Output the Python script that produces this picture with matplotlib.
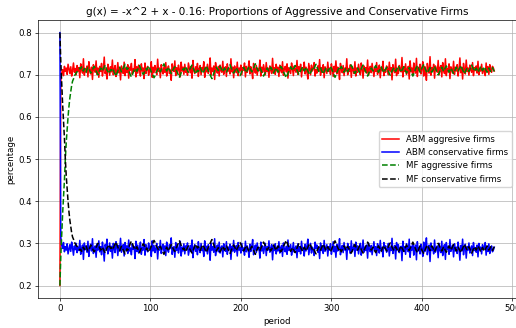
import numpy as np
import matplotlib
matplotlib.use('Agg')
import matplotlib.pyplot as plt

# share of aggressive firms in the agent based model, in thousandths (periods 0..480)
abm_aggr = [
	200, 685, 705, 712, 698, 720, 708, 716, 701, 725, 714, 703, 719, 697, 711, 728, 706, 715, 700, 722,
	709, 717, 693, 726, 713, 704, 738, 699, 715, 707, 721, 695, 731, 710, 702, 718, 689, 724, 712, 706,
	733, 701, 716, 694, 720, 708, 727, 697, 714, 742, 703, 711, 690, 725, 716, 699, 719, 707, 735, 700,
	713, 722, 696, 709, 729, 705, 717, 688, 721, 710, 703, 730, 698, 715, 706, 724, 692, 718, 711, 727,
	701, 714, 708, 736, 695, 719, 704, 723, 711, 697, 726, 709, 716, 691, 728, 703, 715, 720, 699, 712,
	707, 731, 694, 718, 705, 722, 713, 700, 737, 708, 716, 693, 724, 710, 702, 719, 706, 729, 697, 714,
	721, 703, 711, 687, 726, 715, 708, 733, 698, 717, 704, 723, 712, 695, 730, 709, 718, 701, 725, 706,
	713, 699, 728, 716, 705, 720, 692, 734, 710, 703, 719, 708, 727, 696, 714, 722, 700, 717, 711, 731,
	694, 718, 707, 725, 703, 712, 740, 699, 716, 708, 721, 689, 729, 713, 704, 720, 697, 723, 710, 706,
	732, 701, 715, 719, 696, 726, 709, 714, 702, 738, 707, 718, 693, 721, 712, 705, 730, 698, 716, 709,
	723, 700, 717, 711, 728, 695, 720, 706, 714, 733, 702, 719, 708, 691, 727, 713, 704, 722, 699, 715,
	710, 735, 697, 718, 706, 724, 712, 700, 729, 708, 716, 694, 721, 713, 703, 739, 706, 717, 701, 725,
	709, 718, 696, 723, 711, 705, 731, 699, 714, 720, 707, 726, 692, 717, 710, 703, 728, 715, 698, 721,
	712, 706, 734, 701, 719, 708, 725, 695, 716, 711, 730, 702, 718, 707, 690, 727, 714, 700, 723, 709,
	715, 729, 697, 712, 704, 721, 710, 736, 699, 717, 706, 724, 693, 719, 711, 703, 730, 708, 716, 701,
	726, 713, 696, 720, 707, 733, 702, 718, 711, 689, 727, 714, 705, 722, 698, 716, 709, 738, 700, 715,
	708, 724, 694, 719, 712, 703, 731, 697, 716, 706, 725, 710, 700, 728, 713, 692, 721, 709, 717, 704,
	735, 699, 714, 720, 705, 727, 711, 696, 718, 708, 729, 701, 715, 723, 693, 717, 710, 732, 698, 712,
	706, 721, 714, 700, 730, 709, 717, 688, 724, 711, 705, 737, 698, 716, 703, 722, 712, 707, 741, 695,
	719, 708, 726, 701, 713, 720, 690, 733, 707, 716, 699, 728, 711, 704, 739, 696, 718, 710, 725, 702,
	714, 731, 697, 720, 708, 687, 727, 712, 704, 743, 699, 717, 709, 725, 692, 721, 713, 706, 734, 700,
	716, 722, 695, 729, 710, 703, 738, 698, 715, 707, 726, 691, 719, 712, 704, 732, 701, 718, 709, 724,
	697, 713, 740, 705, 718, 690, 727, 711, 702, 735, 708, 716, 699, 723, 712, 706, 729, 698, 717, 710,
	721, 704, 732, 700, 715, 709, 725, 703, 714, 711, 698, 728, 707, 719, 701, 724, 713, 706, 720, 716, 709,
]

# share of aggressive firms in the mean field model, in thousandths (periods 0..480)
mf_aggr = [
	200, 270, 320, 370, 410, 450, 500, 540, 570, 600, 625, 645, 660, 675, 685, 690, 697, 701, 705, 707, 710,
	712, 716, 714, 719, 713, 709, 715, 711, 706, 713, 718, 715, 710, 704, 708, 712, 717, 720, 714, 709,
	705, 700, 706, 711, 716, 713, 709, 714, 719, 723, 717, 711, 708, 703, 707, 712, 710, 715, 712, 706,
	701, 697, 703, 709, 714, 718, 712, 707, 711, 716, 720, 725, 719, 713, 716, 710, 705, 699, 695, 700,
	706, 711, 715, 712, 708, 713, 718, 722, 716, 711, 706, 701, 704, 709, 714, 711, 716, 721, 717, 712,
	707, 703, 698, 693, 697, 703, 708, 712, 716, 711, 707, 712, 717, 722, 726, 720, 714, 709, 713, 718,
	714, 708, 703, 707, 712, 716, 719, 713, 709, 704, 699, 694, 699, 705, 710, 714, 711, 716, 720, 715,
	710, 706, 711, 715, 719, 723, 718, 712, 707, 702, 706, 711, 708, 713, 717, 712, 707, 703, 708, 713,
	717, 721, 715, 709, 704, 700, 695, 691, 697, 703, 709, 714, 718, 714, 710, 715, 720, 716, 711, 707,
	712, 716, 711, 706, 710, 715, 719, 724, 718, 713, 708, 704, 708, 713, 717, 712, 708, 703, 698, 702,
	708, 713, 718, 714, 709, 705, 710, 715, 720, 716, 711, 707, 712, 716, 721, 726, 720, 714, 709, 713,
	717, 712, 707, 702, 697, 701, 706, 711, 716, 712, 708, 713, 718, 714, 709, 704, 708, 713, 717, 711,
	706, 710, 715, 720, 717, 712, 707, 703, 698, 693, 698, 704, 709, 714, 719, 715, 710, 714, 718, 722,
	717, 711, 706, 701, 705, 710, 714, 719, 714, 709, 713, 718, 714, 709, 704, 700, 705, 710, 715, 712,
	716, 721, 725, 719, 713, 708, 712, 716, 711, 706, 702, 707, 712, 717, 713, 708, 712, 716, 720, 715,
	710, 705, 699, 694, 699, 705, 710, 715, 711, 716, 720, 715, 710, 706, 711, 716, 712, 707, 711, 715,
	719, 723, 718, 712, 707, 703, 708, 712, 716, 711, 706, 710, 714, 719, 723, 717, 712, 707, 702, 697,
	702, 707, 712, 716, 713, 709, 714, 718, 722, 716, 711, 706, 710, 715, 719, 714, 709, 705, 709, 714,
	718, 713, 708, 703, 699, 704, 709, 713, 717, 712, 708, 712, 717, 721, 716, 710, 706, 711, 715, 719,
	714, 709, 704, 708, 713, 717, 712, 707, 702, 697, 702, 708, 713, 718, 722, 717, 711, 706, 711, 716,
	720, 724, 719, 713, 708, 704, 708, 713, 717, 711, 706, 710, 715, 720, 715, 710, 705, 700, 704, 709,
	714, 718, 713, 708, 712, 717, 721, 716, 711, 706, 711, 716, 712, 707, 703, 708, 713, 718, 714, 709,
	713, 717, 722, 717, 712, 707, 702, 707, 712, 716, 712, 708, 713, 718, 723, 718, 713, 708, 712, 716,
	711, 706, 710, 715, 720, 715, 710, 714, 719, 715, 710, 706, 711, 716, 712, 708, 713, 717, 712, 708,
]

labels = ['ABM aggresive firms', 'ABM conservative firms', 'MF aggressive firms', 'MF conservative firms']
title = 'g(x) = -x^2 + x - 0.16: Proportions of Aggressive and Conservative Firms'

abm_a = np.array(abm_aggr) / 1000.0
mf_a = np.array(mf_aggr) / 1000.0
# conservative firms are the rest of the population
abm_c = 1.0 - abm_a
mf_c = 1.0 - mf_a

# the reference looks like a bigger default figure scaled down, so shrink everything
s = 0.62
plt.rcParams['font.size'] = 10 * s
plt.rcParams['xtick.major.size'] = 3.5 * s
plt.rcParams['ytick.major.size'] = 3.5 * s
plt.rcParams['xtick.major.pad'] = 3.5 * s
plt.rcParams['ytick.major.pad'] = 3.5 * s
plt.rcParams['xtick.major.width'] = 0.8 * s
plt.rcParams['ytick.major.width'] = 0.8 * s
plt.rcParams['axes.linewidth'] = 0.8 * s
plt.rcParams['axes.labelpad'] = 4.0 * s
plt.rcParams['axes.titlepad'] = 6.0 * s
plt.rcParams['grid.linewidth'] = 0.8 * s

fig = plt.figure(figsize=(5.16, 3.28), dpi=100)
ax = fig.add_axes([0.074, 0.091, 0.926, 0.848])

lw = 1.1
ax.plot(np.arange(len(abm_a)), abm_a, color='red', lw=lw, label=labels[0])
ax.plot(np.arange(len(abm_c)), abm_c, color='blue', lw=lw, label=labels[1])
ax.plot(np.arange(len(mf_a)), mf_a, '--', color='green', lw=lw, label=labels[2])
ax.plot(np.arange(len(mf_c)), mf_c, '--', color='black', lw=lw, label=labels[3])

ax.set_title(title, fontsize=12 * s)
ax.set_xlabel('period')
ax.set_ylabel('percentage')
ax.grid(True)
ax.legend(loc='center right')

plt.savefig('out.png', dpi=100)
